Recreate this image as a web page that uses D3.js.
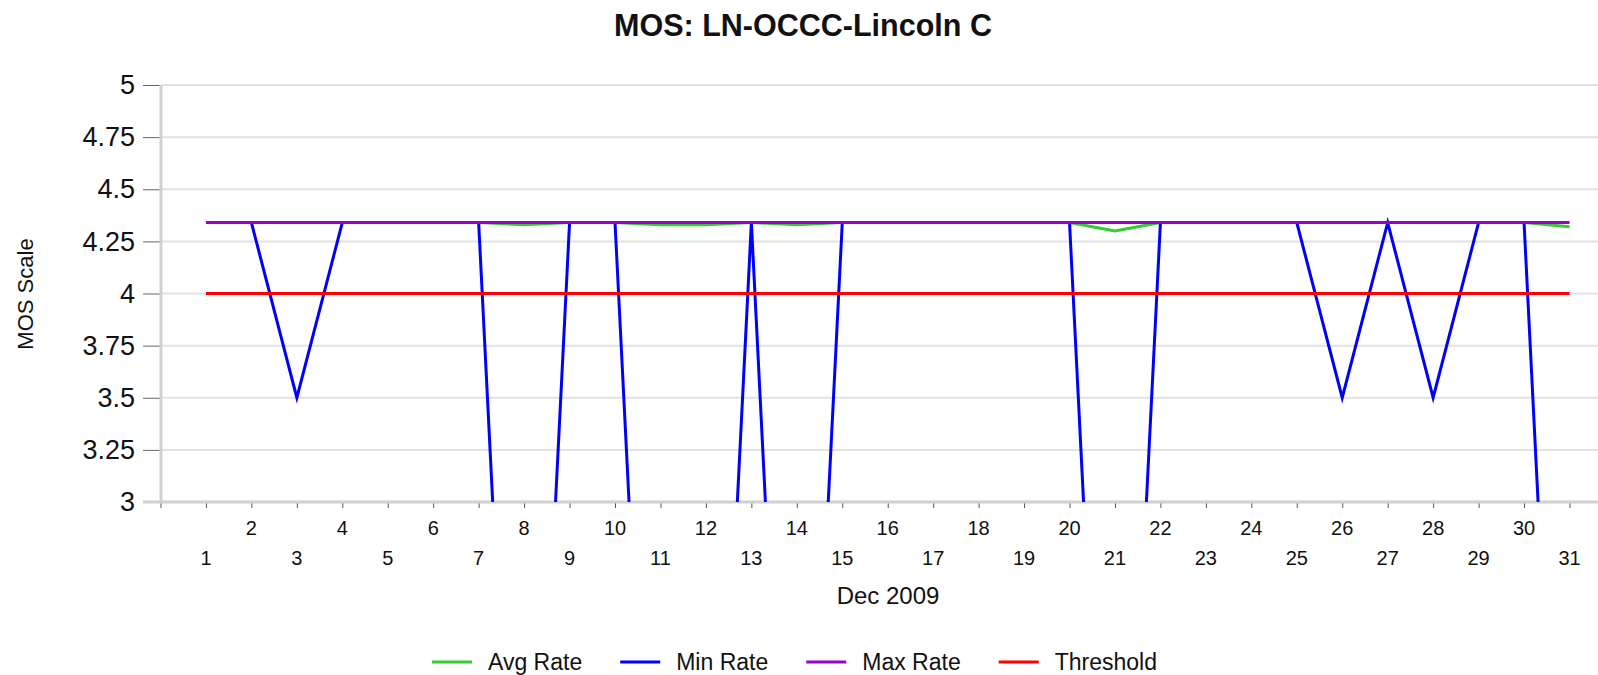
<!DOCTYPE html>
<html>
<head>
<meta charset="utf-8">
<script src="https://cdn.jsdelivr.net/npm/d3@7"></script>
<style>
  body { margin: 0; background: #fff; }
  text { font-family: "Liberation Sans", Arial, sans-serif; fill: #111; }
</style>
</head>
<body>
<script>
// chart data
var days = [1,2,3,4,5,6,7,8,9,10,11,12,13,14,15,16,17,18,19,20,21,22,23,24,25,26,27,28,29,30,31];
var avgRate = [4.34,4.34,4.34,4.34,4.34,4.34,4.34,4.33,4.34,4.34,4.33,4.33,4.34,4.33,4.34,4.34,
               4.34,4.34,4.34,4.34,4.30,4.34,4.34,4.34,4.34,4.34,4.34,4.34,4.34,4.34,4.32];
var minRate = [4.34,4.34,3.5,4.34,4.34,4.34,4.34,0,4.34,4.34,0,0,4.34,0,4.34,4.34,
               4.34,4.34,4.34,4.34,0,4.34,4.34,4.34,4.34,3.5,4.34,3.5,4.34,4.34,0];
var maxRate = [4.34,4.34,4.34,4.34,4.34,4.34,4.34,4.34,4.34,4.34,4.34,4.34,4.34,4.34,4.34,4.34,
               4.34,4.34,4.34,4.34,4.34,4.34,4.34,4.34,4.34,4.34,4.34,4.34,4.34,4.34,4.34];
var threshold = [4,4,4,4,4,4,4,4,4,4,4,4,4,4,4,4,4,4,4,4,4,4,4,4,4,4,4,4,4,4,4];
var yTicks = [3,3.25,3.5,3.75,4,4.25,4.5,4.75,5];
var seriesNames = ["Avg Rate","Min Rate","Max Rate","Threshold"];
var seriesColors = ["#33cc33","#0000ff","#9900cc","#ff0000"];
var titleText = "MOS: LN-OCCC-Lincoln C";
var xTitle = "Dec 2009";
var yTitle = "MOS Scale";

var w = 1598,
    h = 675,
    plotLeft = 161,
    plotTop = 85,
    plotBottom = 502;

var svg = d3.select("body").append("svg").attr("width", w).attr("height", h);

var xScale = d3.scaleLinear().domain([0, 31]).range([160.5, 1569.5]);
var yScale = d3.scaleLinear().domain([3, 5]).range([plotBottom, plotTop]);

// grid
svg.append("g").selectAll("line").data(yTicks.slice(1)).enter().append("line")
    .attr("x1", plotLeft).attr("x2", w)
    .attr("y1", function (d) { return yScale(d); })
    .attr("y2", function (d) { return yScale(d); })
    .attr("stroke", "#e2e2e2").attr("stroke-width", 2);

// y axis
var yAxisGen = d3.axisLeft(yScale).tickValues(yTicks).tickSize(18).tickPadding(8)
    .tickFormat(function (d) { return String(d); });
var yAxis = svg.append("g").attr("transform", "translate(" + plotLeft + ",0)").call(yAxisGen);
yAxis.select(".domain").remove();
yAxis.selectAll(".tick line").attr("stroke", "#666");
yAxis.selectAll(".tick text").style("font-size", "27px").attr("fill", "#111")
    .attr("font-family", null);

// x axis
var xAxisGen = d3.axisBottom(xScale).tickValues(d3.range(0, 32)).tickSize(6).tickFormat("");
var xAxis = svg.append("g").attr("transform", "translate(0," + plotBottom + ")").call(xAxisGen);
xAxis.select(".domain").remove();
xAxis.selectAll(".tick line").attr("stroke", "#555");

svg.append("g").selectAll("text").data(days).enter().append("text")
    .attr("x", function (d) { return xScale(d); })
    .attr("y", function (d) { return d % 2 === 0 ? 535 : 565; })
    .attr("text-anchor", "middle")
    .style("font-size", "20px")
    .text(function (d) { return d; });

// axis lines
svg.append("line").attr("x1", plotLeft).attr("x2", plotLeft).attr("y1", plotTop).attr("y2", plotBottom + 1)
    .attr("stroke", "#d0d0d0").attr("stroke-width", 3);
svg.append("line").attr("x1", plotLeft - 18).attr("x2", w).attr("y1", plotBottom).attr("y2", plotBottom)
    .attr("stroke", "#d0d0d0").attr("stroke-width", 3);

// clip
svg.append("clipPath").attr("id", "plot-clip").append("rect")
    .attr("x", plotLeft).attr("y", plotTop - 5).attr("width", w - plotLeft).attr("height", plotBottom - plotTop + 5);

var lineFn = d3.line()
    .x(function (d, i) { return xScale(days[i]); })
    .y(function (d) { return yScale(d); });

var allSeries = [avgRate, minRate, maxRate, threshold];
var plot = svg.append("g").attr("clip-path", "url(#plot-clip)");
allSeries.forEach(function (s, i) {
    plot.append("path")
        .attr("d", lineFn(s))
        .attr("fill", "none")
        .attr("stroke", seriesColors[i])
        .attr("stroke-width", 3);
});

// titles
svg.append("text").attr("x", 803).attr("y", 36).attr("text-anchor", "middle")
    .style("font-size", "30.5px").style("font-weight", "bold").text(titleText);
svg.append("text").attr("x", 888).attr("y", 604).attr("text-anchor", "middle")
    .style("font-size", "24px").text(xTitle);
svg.append("text").attr("transform", "translate(33,294) rotate(-90)").attr("text-anchor", "middle")
    .style("font-size", "22px").text(yTitle);

// legend
var legend = svg.append("g");
var lx = 432;
seriesNames.forEach(function (name, i) {
    var g = legend.append("g").attr("transform", "translate(" + lx + ",662)");
    g.append("line").attr("x1", 0).attr("x2", 40).attr("y1", 0).attr("y2", 0)
        .attr("stroke", seriesColors[i]).attr("stroke-width", 3);
    var t = g.append("text").attr("x", 56).attr("y", 8).style("font-size", "23px").text(name);
    lx += 56 + t.node().getComputedTextLength() + 38;
});
</script>
</body>
</html>
